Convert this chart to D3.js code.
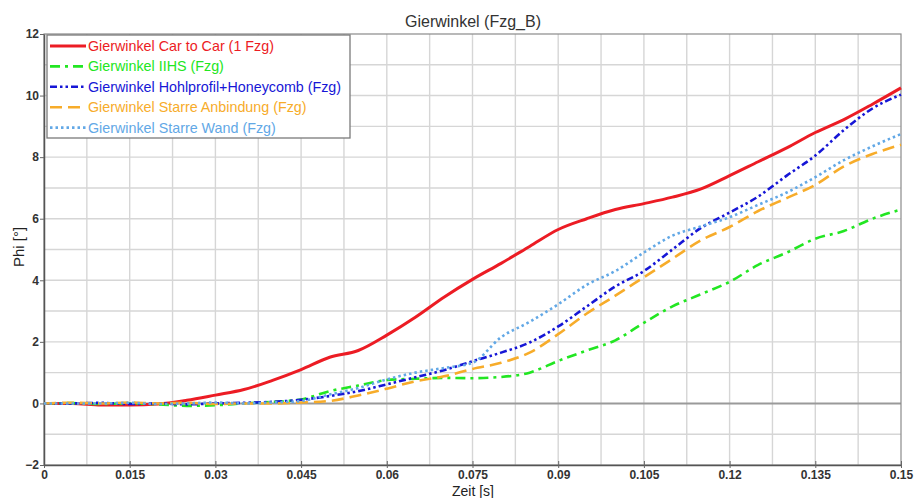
<!DOCTYPE html>
<html>
<head>
<meta charset="utf-8">
<script src="https://cdn.jsdelivr.net/npm/d3@7"></script>
<style>
  html, body { margin: 0; padding: 0; background: #fff; }
  svg { display: block; font-family: "Liberation Sans", Arial, sans-serif; }
</style>
</head>
<body>
<svg id="chart" width="915" height="498"></svg>
<script>
// ---- data ----
const time = [0, 0.005, 0.01, 0.015, 0.02, 0.025, 0.03, 0.035, 0.04, 0.045, 0.05, 0.055, 0.06, 0.065, 0.07, 0.075,
              0.08, 0.085, 0.09, 0.095, 0.1, 0.105, 0.11, 0.115, 0.12, 0.125, 0.13, 0.135, 0.14, 0.145, 0.15];
const carToCar   = [0, 0.0, -0.05, -0.05, -0.02, 0.1, 0.27, 0.45, 0.75, 1.1, 1.5, 1.72, 2.22, 2.8, 3.45, 4.03,
                    4.55, 5.1, 5.65, 6.0, 6.3, 6.49, 6.7, 6.97, 7.4, 7.85, 8.3, 8.8, 9.22, 9.72, 10.25];
const iihs       = [0, 0.01, -0.02, 0.0, -0.03, -0.08, -0.06, 0.0, 0.05, 0.13, 0.4, 0.58, 0.76, 0.8, 0.83, 0.82,
                    0.86, 1.0, 1.38, 1.72, 2.05, 2.62, 3.15, 3.55, 3.95, 4.5, 4.9, 5.35, 5.6, 6.0, 6.3];
const hohlprofil = [0, 0.0, 0.02, -0.02, 0.0, -0.03, 0.0, 0.02, 0.05, 0.12, 0.24, 0.4, 0.62, 0.85, 1.08, 1.37,
                    1.65, 1.98, 2.5, 3.15, 3.8, 4.3, 5.0, 5.7, 6.2, 6.72, 7.4, 8.05, 8.88, 9.58, 10.03];
const anbindung  = [0, 0.02, 0.0, 0.03, 0.0, 0.02, -0.02, 0.0, 0.0, 0.03, 0.08, 0.26, 0.48, 0.72, 0.88, 1.12,
                    1.32, 1.65, 2.25, 2.92, 3.5, 4.1, 4.7, 5.3, 5.73, 6.25, 6.67, 7.1, 7.7, 8.1, 8.4];
const starreWand = [0, 0.0, 0.0, 0.02, -0.02, 0.0, 0.03, 0.0, 0.03, 0.08, 0.29, 0.5, 0.78, 1.0, 1.15, 1.32,
                    2.15, 2.65, 3.22, 3.85, 4.3, 4.9, 5.45, 5.75, 6.05, 6.45, 6.85, 7.35, 7.9, 8.35, 8.75];

const seriesNames = ["Gierwinkel Car to Car (1 Fzg)", "Gierwinkel IIHS (Fzg)", "Gierwinkel Hohlprofil+Honeycomb (Fzg)",
                     "Gierwinkel Starre Anbindung (Fzg)", "Gierwinkel Starre Wand (Fzg)"];
const seriesValues = [carToCar, iihs, hohlprofil, anbindung, starreWand];
const xTicks = [0, 0.015, 0.03, 0.045, 0.06, 0.075, 0.09, 0.105, 0.12, 0.135, 0.15];
const xTickLabels = ["0", "0.015", "0.03", "0.045", "0.06", "0.075", "0.09", "0.105", "0.12", "0.135", "0.15"];
const xGrid = [0.0075, 0.015, 0.0225, 0.03, 0.0375, 0.045, 0.0525, 0.06, 0.0675, 0.075, 0.0825, 0.09, 0.0975,
               0.105, 0.1125, 0.12, 0.1275, 0.135, 0.1425];
const yTicks = [-2, 0, 2, 4, 6, 8, 10, 12];
const yGrid = [-1, 0, 1, 2, 3, 4, 5, 6, 7, 8, 9, 10, 11];

// ---- styles ----
const styles = [
  { color: "#ec1c24", width: 3,   dash: null },
  { color: "#22e622", width: 2.6, dash: "10,5,3,5" },
  { color: "#1616d6", width: 2.6, dash: "7,3,2.5,3,2.5,3" },
  { color: "#f7ac2a", width: 2.6, dash: "12,6" },
  { color: "#62a8e6", width: 2.6, dash: "2.5,3" }
];

const svg = d3.select("#chart");
const L = 44, R = 901, T = 34, B = 465;
const x = d3.scaleLinear().domain([0, 0.15]).range([L, R]);
const y = d3.scaleLinear().domain([-2, 12]).range([B, T]);

svg.append("rect").attr("width", 915).attr("height", 498).attr("fill", "#fff");

// grid
const g = svg.append("g");
g.selectAll(".vg").data(xGrid).join("line")
  .attr("x1", d => x(d)).attr("x2", d => x(d)).attr("y1", T).attr("y2", B)
  .attr("stroke", "#d6d6d6").attr("stroke-width", 1.4);
g.selectAll(".hg").data(yGrid).join("line")
  .attr("x1", L).attr("x2", R).attr("y1", d => y(d)).attr("y2", d => y(d))
  .attr("stroke", d => d === 0 ? "#9a9a9a" : "#d6d6d6").attr("stroke-width", d => d === 0 ? 2 : 1.4);

// frame
svg.append("rect").attr("x", L).attr("y", T).attr("width", R - L).attr("height", B - T)
  .attr("fill", "none").attr("stroke", "#8a8a8a").attr("stroke-width", 1.2);

// axes
const xAxis = d3.axisBottom(x).tickValues(xTicks).tickFormat((d, i) => xTickLabels[i]).tickSizeInner(3).tickSizeOuter(0).tickPadding(2);
const yAxis = d3.axisLeft(y).tickValues(yTicks).tickFormat(d3.format("d")).tickSizeInner(4).tickSizeOuter(0).tickPadding(1);
const xa = svg.append("g").attr("transform", `translate(0,${B})`).call(xAxis);
const ya = svg.append("g").attr("transform", `translate(${L},0)`).call(yAxis);
[xa, ya].forEach(a => {
  a.select(".domain").attr("stroke", "#555").attr("stroke-width", 1.5);
  a.selectAll(".tick line").attr("stroke", "#666");
  a.selectAll("text").attr("fill", "#333").attr("font-size", 12).attr("font-weight", "bold")
    .attr("font-family", "'Liberation Sans', Arial, sans-serif");
});
xa.selectAll(".tick line").attr("y1", -4);

// lines
const line = d3.line().x(d => x(d[0])).y(d => y(d[1])).curve(d3.curveMonotoneX);
const plot = svg.append("g");
seriesValues.forEach((vals, i) => {
  const pts = time.map((t, j) => [t, vals[j]]);
  plot.append("path").datum(pts)
    .attr("d", line).attr("fill", "none")
    .attr("stroke", styles[i].color).attr("stroke-width", styles[i].width)
    .attr("stroke-dasharray", styles[i].dash).attr("stroke-linejoin", "round");
});

// title and axis labels
svg.append("text").attr("x", 473).attr("y", 27).attr("text-anchor", "middle")
  .attr("font-size", 16).attr("fill", "#333").text("Gierwinkel (Fzg_B)");
svg.append("text").attr("x", 473).attr("y", 496).attr("text-anchor", "middle")
  .attr("font-size", 14).attr("fill", "#222").text("Zeit [s]");
svg.append("text").attr("transform", "translate(24,247) rotate(-90)").attr("text-anchor", "middle")
  .attr("font-size", 15).attr("fill", "#222").text("Phi [°]");

// legend
const leg = svg.append("g");
leg.append("rect").attr("x", 47).attr("y", 35).attr("width", 303).attr("height", 103)
  .attr("fill", "#fff").attr("stroke", "#7a7a7a").attr("stroke-width", 1.3);
seriesNames.forEach((name, i) => {
  const yy = 46 + i * 20.4;
  leg.append("line").attr("x1", 50).attr("x2", 86).attr("y1", yy).attr("y2", yy)
    .attr("stroke", styles[i].color).attr("stroke-width", styles[i].width)
    .attr("stroke-dasharray", styles[i].dash);
  leg.append("text").attr("x", 88).attr("y", yy + 5).attr("font-size", 14.3)
    .attr("fill", styles[i].color).text(name);
});
</script>
</body>
</html>
